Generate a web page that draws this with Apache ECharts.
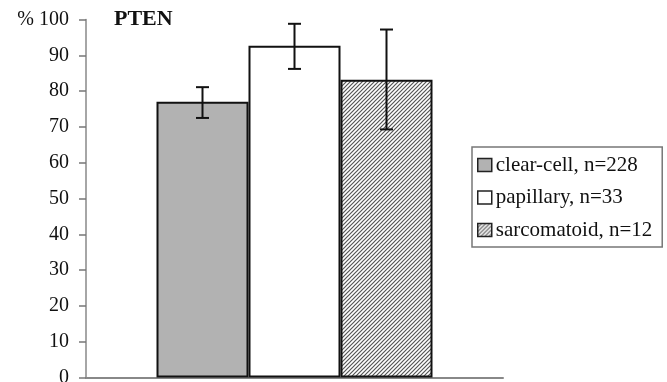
<!DOCTYPE html>
<html>
<head>
<meta charset="utf-8">
<script src="https://cdn.jsdelivr.net/npm/echarts@6/dist/echarts.min.js"></script>
<style>
html,body{margin:0;padding:0;background:#fff;}
#chart{width:667px;height:382px;}
</style>
</head>
<body>
<div id="chart"></div>
<script>
// ---- data ----
const categories = ['PTEN'];
const groups = ['clear-cell', 'papillary', 'sarcomatoid'];
const counts = [228, 33, 12];
const means = [77.0, 92.7, 83.2];
const errLow = [72.5, 86.2, 69.3];
const errHigh = [81.1, 98.8, 97.2];
const yTickValues = [0, 10, 20, 30, 40, 50, 60, 70, 80, 90, 100];
const yTickLabels = ['0', '10', '20', '30', '40', '50', '60', '70', '80', '90', '% 100'];
const titleText = 'PTEN';

// ---- styles ----
const FONT = "'Liberation Serif', 'Times New Roman', serif";
const BAR_W = 92;

function hatchPattern() {
  const c = document.createElement('canvas');
  c.width = 4; c.height = 4;
  const g = c.getContext('2d');
  g.fillStyle = '#ffffff';
  g.fillRect(0, 0, 4, 4);
  g.strokeStyle = '#555555';
  g.lineWidth = 1.2;
  g.beginPath();
  g.moveTo(-1, 5); g.lineTo(5, -1);
  g.moveTo(-1, 1); g.lineTo(1, -1);
  g.moveTo(3, 5); g.lineTo(5, 3);
  g.stroke();
  return c;
}

const fills = ['#b2b2b2', '#ffffff', { image: hatchPattern(), repeat: 'repeat' }];
const names = groups.map((g, i) => g + ', n=' + counts[i]);

const barSeries = names.map((n, i) => ({
  name: n,
  type: 'bar',
  barWidth: BAR_W,
  barGap: '0%',
  data: [means[i]],
  itemStyle: { color: fills[i], borderColor: '#111', borderWidth: 2 },
  emphasis: { disabled: true },
  z: 2
}));

const errData = groups.map((g, i) => [0, errLow[i], errHigh[i], i]);

const errSeries = {
  type: 'custom',
  name: 'err',
  data: errData,
  encode: { x: 0, y: [1, 2] },
  z: 5,
  renderItem: function (params, api) {
    const idx = api.value(3);
    const lo = api.coord([api.value(0), api.value(1)]);
    const hi = api.coord([api.value(0), api.value(2)]);
    const x = lo[0] + (idx - 1) * BAR_W;
    const cap = 6.5;
    const st = { stroke: '#111', lineWidth: 2, fill: null };
    return {
      type: 'group',
      children: [
        { type: 'line', shape: { x1: x, y1: lo[1], x2: x, y2: hi[1] }, style: st },
        { type: 'line', shape: { x1: x - cap, y1: lo[1], x2: x + cap, y2: lo[1] }, style: st },
        { type: 'line', shape: { x1: x - cap, y1: hi[1], x2: x + cap, y2: hi[1] }, style: st }
      ]
    };
  }
};

const chart = echarts.init(document.getElementById('chart'), null, { renderer: 'canvas' });
chart.setOption({
  animation: false,
  backgroundColor: '#ffffff',
  title: {
    text: titleText,
    left: 109, top: 3,
    textStyle: { fontFamily: FONT, fontWeight: 'bold', fontSize: 22, color: '#111' }
  },
  legend: {
    data: names,
    orient: 'vertical',
    left: 472, top: 147,
    padding: [6, 10, 5, 5],
    icon: 'rect',
    itemWidth: 14, itemHeight: 13,
    itemGap: 8.5,
    borderColor: '#777', borderWidth: 1.5,
    selectedMode: false,
    itemStyle: { borderColor: '#222', borderWidth: 1.5 },
    textStyle: { fontFamily: FONT, fontSize: 21, color: '#111', lineHeight: 24, padding: [0, 0, 0, -1] }
  },
  grid: { left: 86, right: 164, top: 19.5, bottom: 4.5, containLabel: false, outerBoundsMode: 'none' },
  xAxis: {
    type: 'category',
    data: categories,
    axisLine: { lineStyle: { color: '#888', width: 2 } },
    axisTick: { show: false },
    axisLabel: { show: false }
  },
  yAxis: {
    type: 'value',
    min: 0, max: 100, interval: 10,
    axisLine: { show: true, lineStyle: { color: '#888', width: 1.5 } },
    axisTick: { show: true, inside: false, length: 7, lineStyle: { color: '#777', width: 1.5 } },
    splitLine: { show: false },
    axisLabel: {
      margin: 17,
      fontFamily: FONT, fontSize: 20, color: '#111',
      formatter: function (v) {
        const k = yTickValues.indexOf(v);
        return k >= 0 ? yTickLabels[k] : '';
      }
    }
  },
  series: barSeries.concat([errSeries])
});
</script>
</body>
</html>
